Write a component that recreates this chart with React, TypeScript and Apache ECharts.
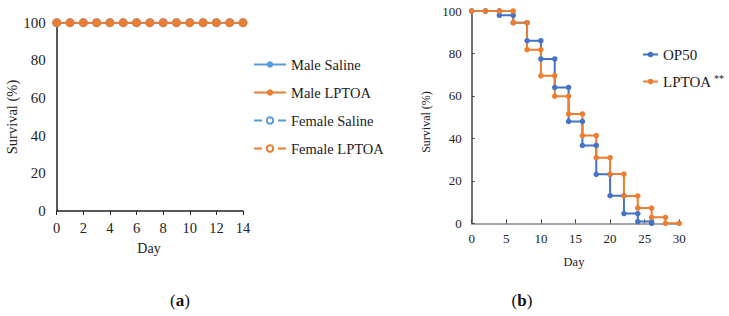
import React, { useEffect, useRef } from "react";
import * as echarts from "echarts";

// Panel (a): survival over 14 days
const daysA = [0, 1, 2, 3, 4, 5, 6, 7, 8, 9, 10, 11, 12, 13, 14];
const maleSaline = [100, 100, 100, 100, 100, 100, 100, 100, 100, 100, 100, 100, 100, 100, 100];
const maleLPTOA = [100, 100, 100, 100, 100, 100, 100, 100, 100, 100, 100, 100, 100, 100, 100];
const femaleSaline = [100, 100, 100, 100, 100, 100, 100, 100, 100, 100, 100, 100, 100, 100, 100];
const femaleLPTOA = [100, 100, 100, 100, 100, 100, 100, 100, 100, 100, 100, 100, 100, 100, 100];
const namesA = ["Male Saline", "Male LPTOA", "Female Saline", "Female LPTOA"];

// Panel (b): Kaplan-Meier style step curves
const op50Days = [0, 2, 4, 4, 6, 6, 8, 8, 10, 10, 12, 12, 14, 14, 16, 16, 18, 18, 20, 20, 22, 22, 24, 24, 26, 26];
const op50Surv = [100, 100, 100, 98, 98, 94.5, 94.5, 86, 86, 77.4, 77.4, 64, 64, 48, 48, 36.7, 36.7, 23.1, 23.1, 13, 13, 4.6, 4.6, 0.8, 0.8, 0];
const lptoaDays = [0, 2, 4, 6, 6, 8, 8, 10, 10, 12, 12, 14, 14, 16, 16, 18, 18, 20, 20, 22, 22, 24, 24, 26, 26, 28, 28, 30];
const lptoaSurv = [100, 100, 100, 100, 94.5, 94.5, 81.8, 81.8, 69.5, 69.5, 59.9, 59.9, 51.5, 51.5, 41.3, 41.3, 30.9, 30.9, 23.2, 23.2, 12.9, 12.9, 7.2, 7.2, 2.8, 2.8, 0, 0];
const namesB = ["OP50", "LPTOA"];

const FONT = "'Liberation Serif', serif";
const BLUE_A = "#5B9BD5";
const ORANGE = "#ED7D31";
const BLUE_B = "#4472C4";

function pairs(xs: number[], ys: number[]) {
  return xs.map((x, i) => [x, ys[i]]);
}

export default function App() {
  const ref = useRef<HTMLDivElement>(null);
  useEffect(() => {
    document.body.style.margin = "0";
    const chart = echarts.init(ref.current!, null, { renderer: "svg" });
    const seriesA = [
      { name: namesA[0], data: pairs(daysA, maleSaline), color: BLUE_A, dashed: false, filled: true, z: 3 },
      { name: namesA[1], data: pairs(daysA, maleLPTOA), color: ORANGE, dashed: false, filled: true, z: 4 },
      { name: namesA[2], data: pairs(daysA, femaleSaline), color: BLUE_A, dashed: true, filled: false, z: 1 },
      { name: namesA[3], data: pairs(daysA, femaleLPTOA), color: ORANGE, dashed: true, filled: false, z: 2 },
    ].map((s) => ({
      type: "line",
      name: s.name,
      xAxisIndex: 0,
      yAxisIndex: 0,
      z: s.z,
      data: s.data,
      symbol: s.filled ? "circle" : "emptyCircle",
      symbolSize: 7,
      showAllSymbol: true,
      itemStyle: { color: s.color, borderColor: s.color, borderWidth: s.filled ? 0 : 1 },
      lineStyle: { color: s.color, width: 2, type: s.dashed ? "dashed" : "solid" },
    }));
    const seriesB = [
      { name: namesB[0], data: pairs(op50Days, op50Surv), color: BLUE_B },
      { name: namesB[1], data: pairs(lptoaDays, lptoaSurv), color: ORANGE },
    ].map((s) => ({
      type: "line",
      name: s.name,
      xAxisIndex: 1,
      yAxisIndex: 1,
      data: s.data,
      symbol: "circle",
      symbolSize: 5.5,
      showAllSymbol: true,
      itemStyle: { color: s.color },
      lineStyle: { color: s.color, width: 2 },
    }));

    const axisText = (size: number) => ({ fontFamily: FONT, fontSize: size, color: "#222" });

    chart.setOption({
      animation: false,
      backgroundColor: "#fff",
      textStyle: { fontFamily: FONT },
      grid: [
        { left: 56.7, top: 22.7, width: 186.3, height: 188.3, outerBoundsMode: "none", containLabel: false },
        { left: 471.7, top: 11, width: 207.6, height: 212.3, outerBoundsMode: "none", containLabel: false },
      ],
      xAxis: [
        {
          gridIndex: 0, type: "value", min: 0, max: 14, interval: 2,
          axisLine: { show: true, onZero: false, lineStyle: { color: "#222", width: 1.5 } },
          axisTick: { show: true, inside: false, length: 4, lineStyle: { color: "#222" } },
          axisLabel: { ...axisText(14.5), margin: 9 },
          splitLine: { show: false },
        },
        {
          gridIndex: 1, type: "value", min: 0, max: 30, interval: 5,
          axisLine: { show: true, onZero: false, lineStyle: { color: "#8a8a8a", width: 1.5 } },
          axisTick: { show: true, inside: true, length: 4, lineStyle: { color: "#444" } },
          axisLabel: { ...axisText(13), margin: 9 },
          splitLine: { show: false },
        },
      ],
      yAxis: [
        {
          gridIndex: 0, type: "value", min: 0, max: 100, interval: 20,
          axisLine: { show: true, lineStyle: { color: "#222", width: 1.5 } },
          axisTick: { show: false },
          axisLabel: { ...axisText(15), margin: 11 },
          splitLine: { show: false },
        },
        {
          gridIndex: 1, type: "value", min: 0, max: 100, interval: 20,
          axisLine: { show: true, lineStyle: { color: "#444", width: 1.5 } },
          axisTick: { show: true, inside: true, length: 3, lineStyle: { color: "#444" } },
          axisLabel: { ...axisText(13), margin: 10 },
          splitLine: { show: false },
        },
      ],
      legend: [
        {
          data: namesA,
          orient: "vertical",
          left: 253,
          top: 57,
          padding: 0,
          itemWidth: 32,
          itemHeight: 8,
          itemGap: 13,
          textStyle: { fontFamily: FONT, fontSize: 14.5, color: "#222", lineHeight: 14 },
        },
        {
          data: namesB,
          orient: "vertical",
          left: 642,
          top: 47,
          padding: 0,
          itemWidth: 15,
          itemHeight: 7,
          itemGap: 12,
          textStyle: { fontFamily: FONT, fontSize: 15, color: "#222", lineHeight: 14 },
        },
      ],
      graphic: [
        { type: "text", x: 12, y: 117, rotation: Math.PI / 2, style: { text: "Survival (%)", font: `14.5px 'Liberation Serif'`, fill: "#222", align: "center", verticalAlign: "middle" } },
        { type: "text", x: 149, y: 248, style: { text: "Day", font: `14px 'Liberation Serif'`, fill: "#222", align: "center", verticalAlign: "middle" } },
        { type: "text", x: 426, y: 122, rotation: Math.PI / 2, style: { text: "Survival (%)", font: `12px 'Liberation Serif'`, fill: "#222", align: "center", verticalAlign: "middle" } },
        { type: "text", x: 574, y: 262, style: { text: "Day", font: `12.5px 'Liberation Serif'`, fill: "#222", align: "center", verticalAlign: "middle" } },
        { type: "text", x: 719, y: 78, style: { text: "**", font: `10px 'Liberation Serif'`, fill: "#222", align: "center", verticalAlign: "middle" } },
        {
          type: "text", x: 180, y: 300,
          style: { text: "({b|a})", fontFamily: FONT, fontSize: 17, fill: "#111", align: "center", verticalAlign: "middle", rich: { b: { fontWeight: "bold", fontSize: 17, fontFamily: FONT } } },
        },
        {
          type: "text", x: 522, y: 300,
          style: { text: "({b|b})", fontFamily: FONT, fontSize: 17, fill: "#111", align: "center", verticalAlign: "middle", rich: { b: { fontWeight: "bold", fontSize: 17, fontFamily: FONT } } },
        },
      ],
      series: [...seriesA, ...seriesB],
    });
    return () => chart.dispose();
  }, []);
  return <div ref={ref} style={{ width: 729, height: 316 }} />;
}
